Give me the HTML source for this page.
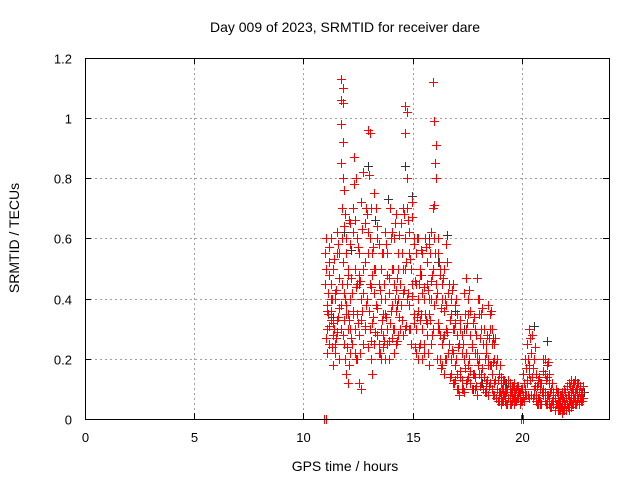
<!DOCTYPE html>
<html><head><meta charset="utf-8"><style>
body{margin:0;background:#fff}
svg{display:block;font-family:"Liberation Sans",sans-serif}
</style></head><body>
<svg id="chart" width="640" height="480" viewBox="0 0 640 480">
<rect width="640" height="480" fill="#fff"/>
<text x="345" y="32" text-anchor="middle" font-size="14">Day 009 of 2023, SRMTID for receiver dare</text>
<text x="345" y="471" text-anchor="middle" font-size="14">GPS time / hours</text>
<text transform="translate(19,238) rotate(-90)" text-anchor="middle" font-size="14">SRMTID / TECUs</text>
<g id="grid"></g>
<g id="ticks"></g>
<g id="black"></g>
<g id="red"></g>
<rect x="85.5" y="58.5" width="524" height="361" fill="none" stroke="#000" stroke-width="1"/>
</svg>
<script>
const xTicks=[0,5,10,15,20];
const yTicks=[0,0.2,0.4,0.6,0.8,1,1.2];
const yTickLabels=["0","0.2","0.4","0.6","0.8","1","1.2"];
const redT=[11.0,11.05,11.1,11.2,11.3,11.4,11.5,11.6,11.7,11.75,11.8,11.9,12.0,12.1,12.2,12.3,12.35,12.4,12.5,12.6,12.7,12.8,12.9,13.0,13.05,13.1,13.2,13.3,13.4,13.5,13.6,13.7,13.8,13.9,14.0,14.1,14.2,14.3,14.4,14.5,14.6,14.7,14.8,14.9,15.0,15.1,15.2,15.3,15.4,15.5,15.6,15.7,15.8,15.9,16.0,16.05,16.1,16.2,16.3,16.4,16.5,16.6,16.7,16.8,16.9,17.0,17.1,17.2,17.3,17.4,17.5,17.6,17.7,17.8,17.9,18.0,18.1,18.2,18.3,18.4,18.5,18.6,18.7,18.8,18.9,19.0,19.1,19.2,19.3,19.4,19.5,19.6,19.7,19.8,19.9,20.0,20.1,20.2,20.3,20.4,20.5,20.6,20.7,20.8,20.9,21.0,21.1,21.2,21.3,21.4,21.5,21.6,21.7,21.8,21.9,22.0,22.1,22.2,22.3,22.4,22.5,22.6,22.7];
const redV=[[0,0],[0.45,0.3,0.55,0.38],[0.6,0.35,0.27,0.42,0.5],[0.52,0.33,0.25,0.4,0.57],[0.45,0.28,0.36,0.18,0.6],[0.5,0.22,0.32,0.42],[0.4,0.55,0.25,0.33],[0.62,0.37,0.29,0.47],[0.55,0.38,0.2,0.3],[1.13,1.1,1.06,1.05,0.98,0.92,0.85,0.8],[0.7,0.64,0.45,0.33,0.6],[0.76,0.55,0.42,0.35,0.25],[0.6,0.5,0.38,0.3,0.15],[0.48,0.65,0.35,0.22,0.12],[0.58,0.42,0.3,0.25,0.4],[0.7,0.5,0.35,0.22],[0.87,0.8,0.78],[0.66,0.45,0.3,0.2],[0.6,0.48,0.35,0.12],[0.55,0.4,0.28,0.1],[0.72,0.5,0.33,0.25],[0.82,0.65,0.42,0.3],[0.7,0.55,0.38,0.24],[0.96,0.95,0.62,0.45],[0.81,0.7,0.36,0.2],[0.6,0.48,0.3,0.15],[0.55,0.42,0.32,0.25],[0.75,0.7,0.5,0.38],[0.6,0.45,0.28,0.22],[0.58,0.4,0.25,0.2],[0.5,0.35,0.3,0.24],[0.55,0.4,0.28,0.2],[0.62,0.48,0.35,0.25],[0.55,0.42,0.3,0.2],[0.7,0.5,0.32,0.27],[0.62,0.45,0.38,0.22],[0.6,0.43,0.3,0.25],[0.68,0.5,0.36,0.28],[0.55,0.45,0.4,0.3],[0.65,0.5,0.38,0.28],[0.7,0.6,0.42,0.3],[1.04,1.02,0.95,0.8,0.5],[0.7,0.55,0.4,0.3],[0.62,0.5,0.38,0.25],[0.72,0.6,0.45,0.32],[0.58,0.45,0.35,0.22],[0.55,0.4,0.3,0.2],[0.6,0.48,0.36,0.25],[0.5,0.42,0.33,0.2],[0.55,0.4,0.3,0.22],[0.6,0.45,0.35,0.28],[0.52,0.4,0.32,0.18],[0.58,0.46,0.35,0.25],[0.62,0.5,0.4,0.3],[1.12,0.85,0.7,0.55],[0.99,0.91,0.71,0.45],[0.8,0.6,0.4,0.3],[0.55,0.48,0.32,0.2],[0.5,0.4,0.28,0.18],[0.45,0.36,0.25,0.15],[0.5,0.38,0.28,0.2],[0.58,0.42,0.3,0.22],[0.45,0.35,0.25,0.15],[0.4,0.3,0.2,0.12],[0.45,0.32,0.22,0.13],[0.38,0.28,0.18,0.1],[0.35,0.25,0.15,0.08],[0.3,0.22,0.14,0.1],[0.28,0.2,0.13,0.09],[0.42,0.3,0.2,0.12],[0.47,0.35,0.22,0.14],[0.4,0.28,0.18,0.12],[0.36,0.25,0.16,0.1],[0.32,0.22,0.15,0.1],[0.3,0.2,0.14,0.08],[0.47,0.35,0.22,0.15],[0.4,0.3,0.2,0.12],[0.35,0.25,0.15,0.1],[0.3,0.22,0.14,0.09],[0.25,0.18,0.12,0.08],[0.38,0.3,0.2,0.12],[0.35,0.25,0.18,0.1],[0.3,0.2,0.15,0.08],[0.25,0.18,0.12,0.07],[0.2,0.15,0.1,0.06],[0.15,0.12,0.09,0.05],[0.14,0.1,0.08,0.06],[0.13,0.1,0.08,0.06],[0.12,0.1,0.07,0.05],[0.13,0.09,0.07,0.05],[0.12,0.1,0.08,0.06],[0.11,0.09,0.07,0.05],[0.12,0.1,0.08,0.06],[0.1,0.08,0.06],[0.11,0.09,0.07],[0.1,0.08,0.06,0,0],[0.15,0.1,0.07],[0.2,0.13,0.08],[0.25,0.18,0.12,0.07],[0.3,0.22,0.15,0.08],[0.28,0.2,0.14,0.08],[0.2,0.15,0.1,0.06],[0.15,0.12,0.08,0.05],[0.13,0.1,0.07,0.05],[0.12,0.09,0.06],[0.2,0.15,0.1,0.06],[0.2,0.14,0.09,0.05],[0.18,0.12,0.08,0.05],[0.15,0.1,0.07,0.04],[0.1,0.08,0.05],[0.09,0.07,0.05],[0.1,0.07,0.05,0.03],[0.09,0.06,0.04,0.03],[0.08,0.06,0.04,0.02],[0.09,0.06,0.04,0.03],[0.1,0.07,0.05,0.03],[0.11,0.08,0.05,0.03],[0.12,0.09,0.06,0.04],[0.13,0.1,0.07,0.05],[0.12,0.09,0.07,0.05],[0.13,0.1,0.08,0.06],[0.12,0.09,0.07,0.05],[0.11,0.09,0.07,0.06]];
const redT2=[11.15,11.35,11.55,11.85,12.05,12.25,12.45,12.65,12.85,13.15,13.35,13.55,13.75,13.95,14.15,14.35,14.55,14.75,14.95,15.15,15.35,15.55,15.75,15.95,16.15,16.35,16.55,16.75,16.95,17.15,17.35,17.55,17.75,17.95,18.15,18.35,18.55,18.75,18.95,19.15,19.35,19.55,19.75,19.95,20.15,20.35,20.55,20.75,20.95,21.15,21.35,21.55,21.75,21.95,22.15,22.35,22.55,22.75];
const redV2=[[0.48,0.36,0.31,0.22],[0.53,0.4,0.3,0.24],[0.58,0.43,0.34,0.27],[0.68,0.52,0.4,0.28,0.2],[0.66,0.45,0.33,0.24,0.18],[0.62,0.47,0.36,0.27],[0.57,0.44,0.32,0.2],[0.63,0.46,0.36,0.22],[0.68,0.52,0.4,0.31],[0.57,0.44,0.34,0.26],[0.64,0.5,0.37,0.29],[0.55,0.43,0.33,0.22],[0.58,0.45,0.34,0.26],[0.6,0.47,0.36,0.26],[0.65,0.5,0.4,0.3],[0.61,0.47,0.34,0.26],[0.68,0.55,0.43,0.33],[0.66,0.52,0.42,0.31],[0.67,0.53,0.41,0.3],[0.6,0.46,0.34,0.24],[0.56,0.45,0.35,0.24],[0.57,0.44,0.33,0.25],[0.55,0.43,0.33,0.22],[0.6,0.48,0.38,0.28],[0.52,0.42,0.3,0.2],[0.47,0.37,0.27,0.17],[0.52,0.4,0.29,0.2],[0.43,0.33,0.23,0.14],[0.4,0.3,0.2,0.12],[0.33,0.24,0.16,0.1],[0.35,0.25,0.17,0.1],[0.43,0.32,0.2,0.13],[0.34,0.24,0.15,0.1],[0.4,0.28,0.18,0.11],[0.37,0.27,0.17,0.11],[0.28,0.2,0.13,0.09],[0.36,0.27,0.18,0.11],[0.27,0.19,0.13,0.08],[0.18,0.13,0.09,0.06],[0.13,0.1,0.08,0.06],[0.12,0.09,0.07,0.05],[0.11,0.09,0.07,0.05],[0.11,0.09,0.07,0.06],[0.1,0.08,0.06,0.05],[0.17,0.12,0.08,0.06],[0.27,0.2,0.13,0.08],[0.24,0.17,0.11,0.07],[0.14,0.11,0.07,0.05],[0.16,0.12,0.08,0.05],[0.19,0.13,0.08,0.05],[0.12,0.09,0.06,0.04],[0.09,0.07,0.05,0.03],[0.08,0.06,0.04,0.03],[0.09,0.07,0.05,0.03],[0.11,0.08,0.06,0.04],[0.12,0.1,0.07,0.05],[0.12,0.1,0.07,0.05],[0.11,0.09,0.07,0.06]];
const blackT=[11.3,11.8,12.1,12.5,12.9,13.2,13.5,13.8,14.2,14.6,14.9,15.3,15.7,16.1,16.5,16.9,17.3,17.7,18.1,18.6,19.2,19.8,20.5,21.1,21.8,22.4,22.8];
const blackV=[0.34,0.62,0.56,0.45,0.84,0.66,0.5,0.73,0.38,0.84,0.74,0.48,0.6,0.52,0.61,0.36,0.3,0.1,0.12,0.27,0.12,0.09,0.31,0.26,0.05,0.1,0.09];
const X=h=>85+h*(524/24);
const Y=v=>419-v*301;
const NS="http://www.w3.org/2000/svg";
function mk(tag,attrs,parent){const e=document.createElementNS(NS,tag);for(const k in attrs)e.setAttribute(k,attrs[k]);parent.appendChild(e);return e;}
const grid=document.getElementById('grid'),ticks=document.getElementById('ticks');
xTicks.forEach(t=>{
  const x=Math.round(X(t))+0.5;
  if(t>0){const g=mk('line',{x1:x,x2:x,y1:58,y2:419,stroke:'#a0a0a0','stroke-dasharray':'2,3'},grid);
  
  }
  const l=mk('text',{x:x,y:442,'text-anchor':'middle','font-size':13},ticks);l.textContent=t;
  
  
  mk('line',{x1:x,x2:x,y1:419,y2:413,stroke:'#000'},ticks);
  mk('line',{x1:x,x2:x,y1:58,y2:64,stroke:'#000'},ticks);
});
yTicks.forEach((t,i)=>{
  const y=Math.round(Y(t))+0.5;
  if(t>0&&t<1.2){const g=mk('line',{x1:85,x2:609,y1:y,y2:y,stroke:'#a0a0a0','stroke-dasharray':'2,3'},grid);
  
  }
  const l=mk('text',{x:72,y:y+5,'text-anchor':'end','font-size':13},ticks);l.textContent=yTickLabels[i];
  
  
  mk('line',{x1:85,x2:91,y1:y,y2:y,stroke:'#000'},ticks);
  mk('line',{x1:603,x2:609,y1:y,y2:y,stroke:'#000'},ticks);
});
function plus(x,y,col,g){
  x=Math.round(x);y=Math.round(y);
  return mk('path',{d:`M${x-4},${y}h9v1h-9zM${x},${y-4}h1v9h-1z`,fill:col,stroke:'none'},g);
}
const bg=document.getElementById('black');
blackT.forEach((t,i)=>{const p=plus(X(t)+1.5,Y(blackV[i]),'#333333',bg);
  
  });
const rg=document.getElementById('red');
redT.forEach((t,i)=>{redV[i].forEach((v,j)=>{
  const p=plus(X(t)+(j%2?1:-1),Y(v),'#ff0000',rg);
  
  
});});
redT2.forEach((t,i)=>{redV2[i].forEach((v,j)=>{
  const p=plus(X(t)+(j%2?-1:1),Y(v),'#ff0000',rg);
  
  
});});
</script>
</body></html>
